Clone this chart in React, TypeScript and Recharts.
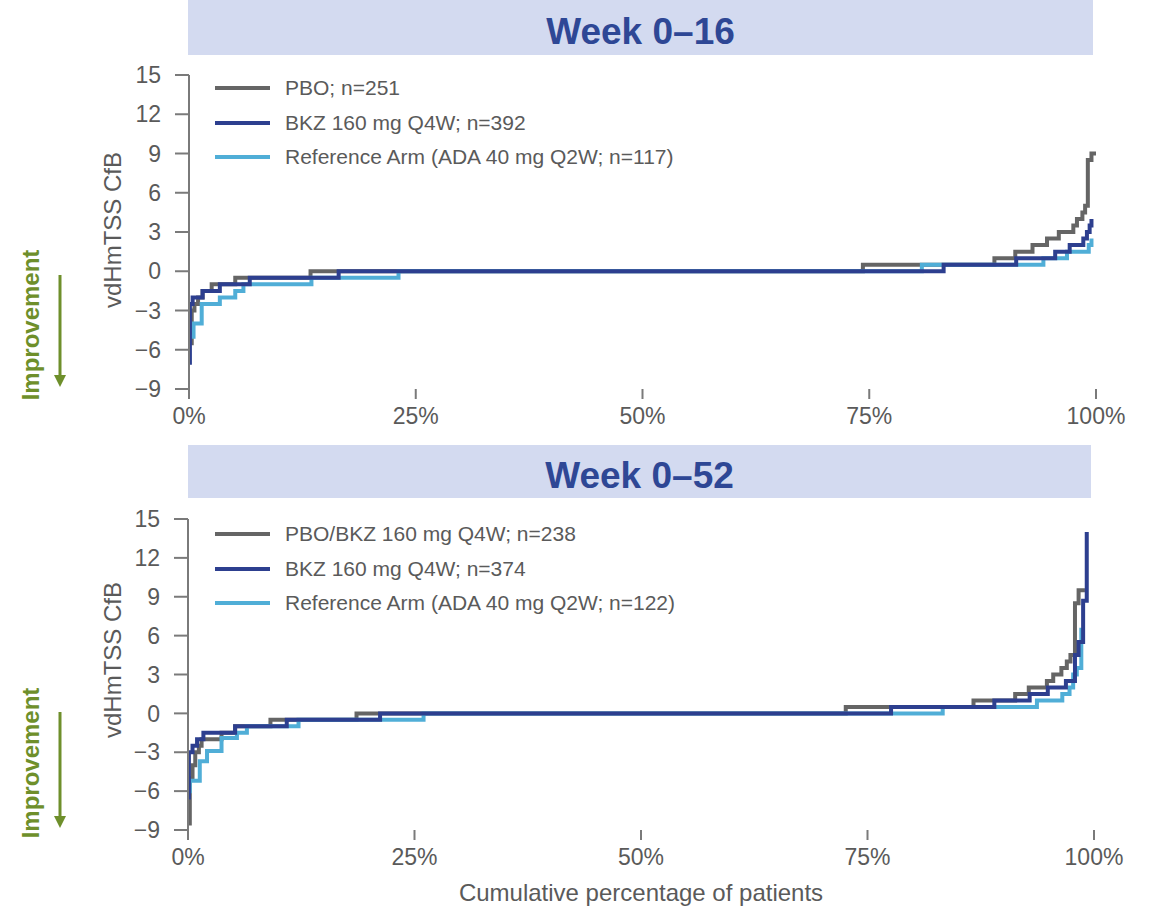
import React from 'react';
import { LineChart, Line, XAxis, YAxis } from 'recharts';

const pctTicks = [0, 25, 50, 75, 100];
const yTicks = [-9, -6, -3, 0, 3, 6, 9, 12, 15];

// Week 0–16
const pboX16 = [0, 0.3, 0.6, 1.0, 1.5, 2.5, 5.1, 13.4, 74.3, 88.8, 91.1, 93.0, 94.6, 95.9, 97.5, 97.9, 98.5, 98.8, 99.1, 99.5, 100];
const pboY16 = [-5.5, -3, -2.5, -2, -1.5, -1, -0.5, 0, 0.5, 1, 1.5, 2, 2.5, 3, 3.5, 4, 4.5, 5, 8.5, 9, 9];
const bkzX16 = [0, 0.1, 0.4, 1.5, 3.4, 6.7, 16.5, 83.2, 91.2, 95.5, 97.1, 98.6, 99.0, 99.3, 99.5];
const bkzY16 = [-7, -2.5, -2, -1.5, -1, -0.5, 0, 0.5, 1, 1.5, 2, 2.5, 3, 3.5, 4];
const refX16 = [0, 0.5, 1.4, 3.4, 5.1, 6.0, 13.5, 23.1, 80.8, 94.2, 96.8, 99.2, 99.5];
const refY16 = [-5, -4, -2.5, -2, -1.5, -1, -0.5, 0, 0.5, 1, 1.5, 2, 2.5];

// Week 0–52
const pboX52 = [0, 0.2, 0.5, 0.8, 1.2, 1.5, 3.7, 5.2, 9.1, 18.6, 72.6, 86.7, 91.3, 92.8, 94.8, 95.5, 96.4, 97.0, 97.4, 97.9, 98.3, 99.0];
const pboY52 = [-8.5, -5, -4, -3, -2.5, -2, -1.5, -1, -0.5, 0, 0.5, 1, 1.5, 2, 2.5, 3, 3.5, 4, 4.5, 8.5, 9.5, 9.5];
const bkzX52 = [0, 0.1, 0.5, 1.0, 1.7, 5.2, 10.9, 21.2, 77.6, 89.0, 92.9, 94.9, 96.9, 97.9, 98.3, 98.8, 99.2];
const bkzY52 = [-6.5, -3, -2.5, -2, -1.5, -1, -0.5, 0, 0.5, 1, 1.5, 2, 2.5, 4.5, 5.5, 8.7, 14];
const refX52 = [0, 0.2, 1.3, 2.1, 3.7, 5.4, 6.5, 12.2, 26.0, 83.3, 93.7, 96.5, 97.3, 97.7, 98.1, 98.6];
const refY52 = [-6, -5.2, -3.7, -2.9, -1.9, -1.5, -1, -0.5, 0, 0.5, 1, 1.5, 2, 3, 3.5, 6.6];

const GRAY = '#656565';
const NAVY = '#2D3F8F';
const SKY = '#50AED7';
const GREEN = '#6E8F2B';
const TXT = '#5a5a5a';
const AXIS = '#7a7a7a';
const FONT = '"Liberation Sans", Arial, sans-serif';

const toPoints = (xs: number[], ys: number[]) => xs.map((x, i) => ({ x, y: ys[i] }));

type Series = { name: string; color: string; xs: number[]; ys: number[] };

type PanelProps = {
  top: number;
  title: string;
  series: Series[];
  drawOrder: number[];
  bandLeft: number;
  bandRight: number;
  bandHeight: number;
  plotLeft: number;
  plotRight: number;
  plotTop: number;
  plotBottom: number;
  legendTop: number;
  yLabelY: number;
  arrowTop: number;
  arrowBottom: number;
  improveY: number;
};

const Panel = (p: PanelProps) => {
  const height = p.plotBottom + 45;
  return (
    <div style={{ position: 'absolute', left: 0, top: p.top, width: 1153, height }}>
      <div
        style={{
          position: 'absolute',
          left: p.bandLeft,
          top: 0,
          width: p.bandRight - p.bandLeft,
          height: p.bandHeight,
          background: '#D3DAF0',
          color: '#2E4795',
          fontWeight: 'bold',
          fontSize: 37,
          lineHeight: `${p.bandHeight + 8}px`,
          textAlign: 'center',
          fontFamily: FONT,
        }}
      >
        {p.title}
      </div>

      <LineChart
        width={1153}
        height={height}
        margin={{ top: p.plotTop, right: 1153 - p.plotRight, bottom: 5, left: 0 }}
        style={{ position: 'absolute', left: 0, top: 0 }}
      >
        <XAxis
          dataKey="x"
          type="number"
          domain={[0, 100]}
          ticks={pctTicks}
          tickFormatter={(v) => `${v}%`}
          axisLine={false}
          tickLine={{ stroke: AXIS, strokeWidth: 2 }}
          tickSize={10}
          tickMargin={9}
          height={40}
          tick={{ fill: TXT, fontSize: 23, fontFamily: FONT }}
          allowDataOverflow
        />
        <YAxis
          dataKey="y"
          type="number"
          domain={[-9, 15]}
          ticks={yTicks}
          tickFormatter={(v) => (v < 0 ? `\u2212${Math.abs(v)}` : `${v}`)}
          width={p.plotLeft}
          axisLine={{ stroke: AXIS, strokeWidth: 2 }}
          tickLine={{ stroke: AXIS, strokeWidth: 2 }}
          tickSize={14}
          tickMargin={14}
          tick={{ fill: TXT, fontSize: 23, fontFamily: FONT }}
          allowDataOverflow
        />
        {p.drawOrder.map((i) => {
          const s = p.series[i];
          return (
            <Line
              key={s.name}
              data={toPoints(s.xs, s.ys)}
              dataKey="y"
              type="stepAfter"
              stroke={s.color}
              strokeWidth={4}
              dot={false}
              activeDot={false}
              isAnimationActive={false}
            />
          );
        })}
      </LineChart>

      <div style={{ position: 'absolute', left: 215, top: p.legendTop, fontFamily: FONT }}>
        {p.series.map((s) => (
          <div key={s.name} style={{ display: 'flex', alignItems: 'center', height: 34.5 }}>
            <div style={{ width: 55, height: 4, background: s.color, marginRight: 15 }} />
            <span style={{ fontSize: 21, color: TXT, whiteSpace: 'nowrap' }}>{s.name}</span>
          </div>
        ))}
      </div>

      <div
        style={{
          position: 'absolute',
          left: 113,
          top: p.yLabelY,
          transform: 'translate(-50%, -50%) rotate(-90deg)',
          fontSize: 24,
          color: TXT,
          whiteSpace: 'nowrap',
          fontFamily: FONT,
        }}
      >
        vdHmTSS CfB
      </div>

      <div
        style={{
          position: 'absolute',
          left: 31,
          top: p.improveY,
          transform: 'translate(-50%, -50%) rotate(-90deg)',
          fontSize: 24,
          fontWeight: 'bold',
          color: GREEN,
          whiteSpace: 'nowrap',
          fontFamily: FONT,
        }}
      >
        Improvement
      </div>

      <svg
        width={20}
        height={p.arrowBottom - p.arrowTop}
        style={{ position: 'absolute', left: 50, top: p.arrowTop }}
      >
        <line x1={10} y1={0} x2={10} y2={p.arrowBottom - p.arrowTop - 10} stroke={GREEN} strokeWidth={3} />
        <polygon
          points={`4,${p.arrowBottom - p.arrowTop - 12} 16,${p.arrowBottom - p.arrowTop - 12} 10,${p.arrowBottom - p.arrowTop}`}
          fill={GREEN}
        />
      </svg>
    </div>
  );
};

export default function App() {
  const week16: Series[] = [
    { name: 'PBO; n=251', color: GRAY, xs: pboX16, ys: pboY16 },
    { name: 'BKZ 160 mg Q4W; n=392', color: NAVY, xs: bkzX16, ys: bkzY16 },
    { name: 'Reference Arm (ADA 40 mg Q2W; n=117)', color: SKY, xs: refX16, ys: refY16 },
  ];
  const week52: Series[] = [
    { name: 'PBO/BKZ 160 mg Q4W; n=238', color: GRAY, xs: pboX52, ys: pboY52 },
    { name: 'BKZ 160 mg Q4W; n=374', color: NAVY, xs: bkzX52, ys: bkzY52 },
    { name: 'Reference Arm (ADA 40 mg Q2W; n=122)', color: SKY, xs: refX52, ys: refY52 },
  ];

  return (
    <div style={{ position: 'absolute', left: 0, top: 0, width: 1153, height: 909, background: '#fff', fontFamily: FONT }}>
      <Panel
        top={0}
        title="Week 0–16"
        series={week16}
        drawOrder={[0, 2, 1]}
        bandLeft={188}
        bandRight={1093}
        bandHeight={55}
        plotLeft={189}
        plotRight={1096}
        plotTop={75}
        plotBottom={389}
        legendTop={71}
        yLabelY={230}
        arrowTop={275}
        arrowBottom={387}
        improveY={325}
      />
      <Panel
        top={445}
        title="Week 0–52"
        series={week52}
        drawOrder={[0, 2, 1]}
        bandLeft={188}
        bandRight={1091}
        bandHeight={53}
        plotLeft={188}
        plotRight={1094}
        plotTop={74}
        plotBottom={385}
        legendTop={72}
        yLabelY={215}
        arrowTop={267}
        arrowBottom={383}
        improveY={318}
      />
      <div
        style={{
          position: 'absolute',
          left: 641,
          top: 893,
          transform: 'translate(-50%, -50%)',
          fontSize: 24,
          color: TXT,
          whiteSpace: 'nowrap',
        }}
      >
        Cumulative percentage of patients
      </div>
    </div>
  );
}
